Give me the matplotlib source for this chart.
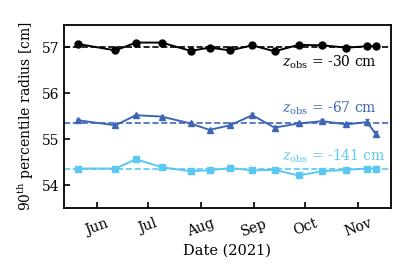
import matplotlib
matplotlib.use("Agg")
import matplotlib.pyplot as plt
import matplotlib.dates as mdates
import numpy as np
import datetime as dt

plt.rcParams['font.family'] = ['DejaVu Serif']
plt.rcParams['mathtext.fontset'] = 'dejavuserif'
plt.rcParams['font.size'] = 10

dates = ["2021-05-21", "2021-06-12", "2021-06-24", "2021-07-09", "2021-07-26",
         "2021-08-06", "2021-08-18", "2021-08-31", "2021-09-13", "2021-09-27",
         "2021-10-11", "2021-10-25", "2021-11-06", "2021-11-11"]

r30 = [57.07, 56.93, 57.10, 57.10, 56.92, 56.99, 56.93, 57.04, 56.91, 57.05,
       57.04, 56.99, 57.02, 57.02]
r67 = [55.41, 55.30, 55.52, 55.49, 55.34, 55.20, 55.30, 55.52, 55.25, 55.34,
       55.39, 55.32, 55.37, 55.12]
r141 = [54.36, 54.36, 54.56, 54.39, 54.30, 54.32, 54.37, 54.32, 54.33, 54.21,
        54.30, 54.33, 54.36, 54.36]
err30 = [0.02, 0.02, 0.02, 0.02, 0.03, 0.02, 0.03, 0.02, 0.03, 0.02, 0.02, 0.02, 0.04, 0.04]
err67 = [0.02, 0.02, 0.03, 0.02, 0.04, 0.03, 0.04, 0.04, 0.03, 0.03, 0.05, 0.03, 0.06, 0.05]
err141 = [0.02, 0.02, 0.02, 0.02, 0.04, 0.03, 0.03, 0.02, 0.03, 0.02, 0.03, 0.02, 0.04, 0.05]

means = [57.0, 55.35, 54.35]
labels = ["$z_{\\rm obs}$ = -30 cm", "$z_{\\rm obs}$ = -67 cm", "$z_{\\rm obs}$ = -141 cm"]
colors = ["black", "#3f66b5", "#5bc8f2"]
markers = ["o", "^", "s"]

x = [dt.datetime.strptime(d, "%Y-%m-%d") for d in dates]

fig = plt.figure(figsize=(4.03, 2.73), dpi=100)
ax = fig.add_axes([0.159, 0.238, 0.811, 0.670])

for vals, errs, c, m, mean in zip([r30, r67, r141], [err30, err67, err141], colors, markers, means):
    ax.errorbar(x, vals, yerr=errs, color=c, marker=m, ms=5, lw=1.4, capsize=1.5, elinewidth=1.2)
    ax.axhline(mean, color=c, ls='--', lw=1.2)

ax.text(dt.datetime(2021, 11, 12), 56.68, labels[0], color=colors[0], ha='right', va='center')
ax.text(dt.datetime(2021, 11, 12), 55.68, labels[1], color=colors[1], ha='right', va='center')
ax.text(dt.datetime(2021, 11, 17), 54.63, labels[2], color=colors[2], ha='right', va='center')

ax.set_xlim(dt.datetime(2021, 5, 13), dt.datetime(2021, 11, 20))
ax.set_ylim(53.5, 57.48)
ax.set_yticks([54, 55, 56, 57])
ax.xaxis.set_major_locator(mdates.MonthLocator(bymonth=[6, 7, 8, 9, 10, 11]))
ax.xaxis.set_major_formatter(mdates.DateFormatter('%b'))
ax.tick_params(direction='in', length=4, width=1.2)
ax.tick_params(axis='x', pad=6)
for lab in ax.get_xticklabels():
    lab.set_rotation(20)
    lab.set_ha('center')
for s in ax.spines.values():
    s.set_linewidth(1.3)
ax.set_xlabel("Date (2021)", fontsize=10.5, labelpad=3)
ax.set_ylabel("90$^{\\rm th}$ percentile radius [cm]")

fig.savefig("out.png", dpi=100)
